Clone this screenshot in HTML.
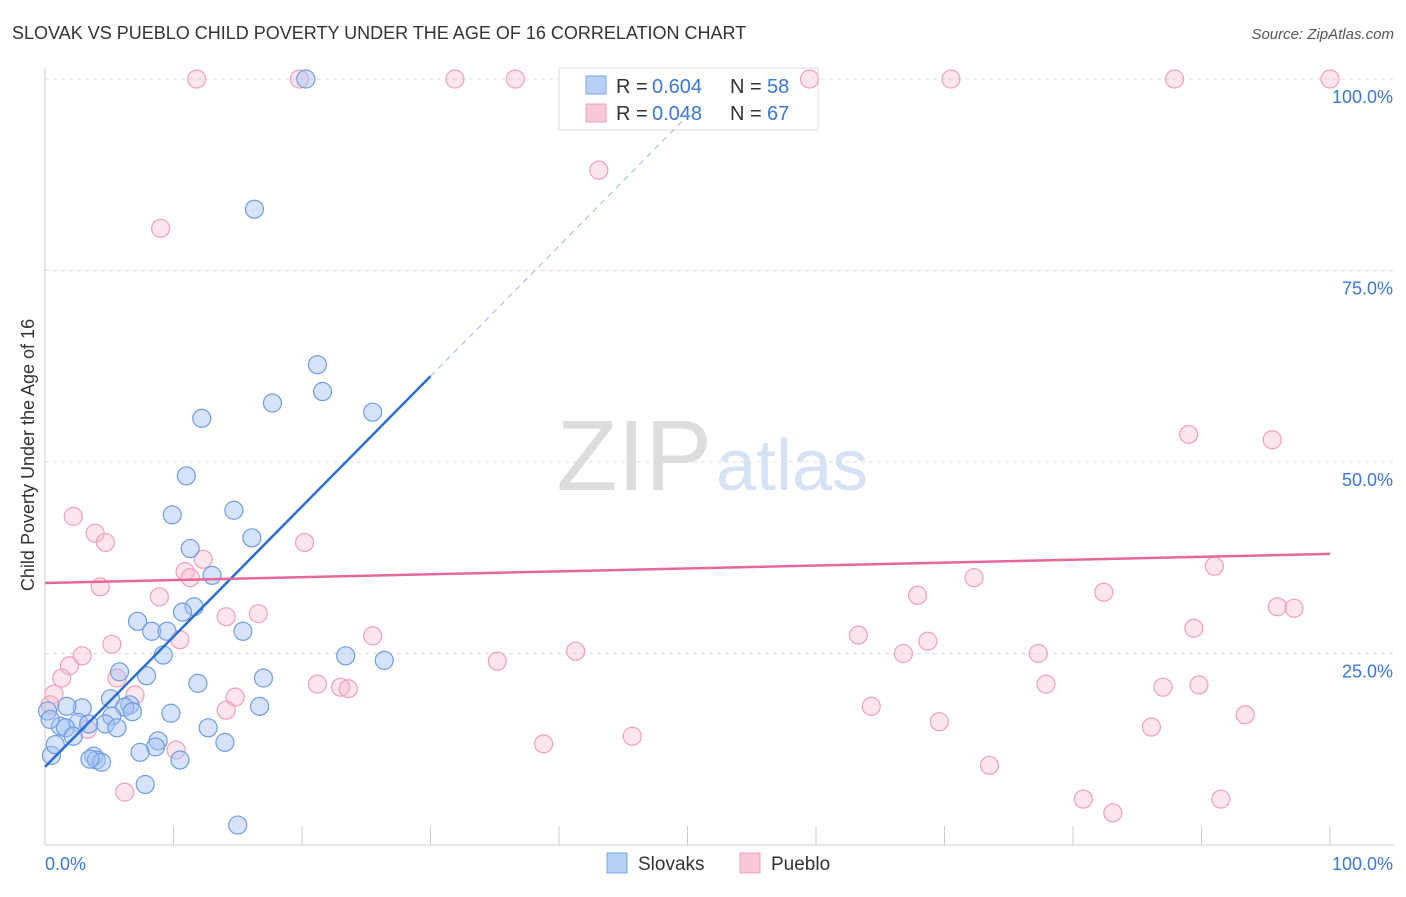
<!DOCTYPE html>
<html><head><meta charset="utf-8"><style>
body{margin:0;background:#fff;font-family:"Liberation Sans",sans-serif;}
svg text{font-family:"Liberation Sans",sans-serif;}
</style></head><body>
<svg id="chart" width="1406" height="892">
<text x="12" y="39" font-size="18" fill="#333">SLOVAK VS PUEBLO CHILD POVERTY UNDER THE AGE OF 16 CORRELATION CHART</text>
<text x="1394" y="39" font-size="15" fill="#555" font-style="italic" text-anchor="end">Source: ZipAtlas.com</text>
<text x="712" y="490" font-size="100" fill="#ddd" text-anchor="end" font-family="Liberation Serif">ZIP</text>
<text x="716" y="490" font-size="72" fill="#d5e3f5">atlas</text>
<text transform="translate(34,455) rotate(-90)" font-size="18" fill="#333" text-anchor="middle">Child Poverty Under the Age of 16</text>
<g id="grid"></g>
<g>
<rect x="559" y="68" width="259" height="62" fill="#fff" stroke="#ddd"/>
<rect x="586" y="76" width="20" height="18" fill="#b8d0f4" stroke="#7aa6e0"/>
<rect x="586" y="104" width="20" height="18" fill="#f8c8d6" stroke="#f0a0b8"/>
<text x="616" y="93" font-size="20" fill="#333">R =</text><text x="652" y="93" font-size="20" fill="#3a78d8">0.604</text>
<text x="730" y="93" font-size="20" fill="#333">N =</text><text x="767" y="93" font-size="20" fill="#3a78d8">58</text>
<text x="616" y="120" font-size="20" fill="#333">R =</text><text x="652" y="120" font-size="20" fill="#3a78d8">0.048</text>
<text x="730" y="120" font-size="20" fill="#333">N =</text><text x="767" y="120" font-size="20" fill="#3a78d8">67</text>
</g>
<g id="pts"></g><g id="lines"></g>
<g>
<rect x="607" y="853" width="20" height="20" fill="#b8d0f4" stroke="#7aa6e0"/>
<text x="638" y="870" font-size="19" fill="#333">Slovaks</text>
<rect x="740" y="853" width="20" height="20" fill="#f8c8d6" stroke="#f0a0b8"/>
<text x="771" y="870" font-size="19" fill="#333">Pueblo</text>
</g>
</svg>
<script>
const yTicks=[25,50,75,100];
const yTickLabels=["25.0%","50.0%","75.0%","100.0%"];
const xTicks=[0,10,20,30,40,50,60,70,80,90,100];
const slovakX=[20.3,16.3,21.2,21.6,17.7,25.5,12.2,11.0,9.9,14.7,16.1,11.3,13.0,11.6,10.7,7.2,8.3,9.5,15.4,9.2,23.4,26.4,5.8,7.9,17.0,11.9,5.1,6.6,16.7,2.9,1.7,6.2,5.2,6.8,9.8,2.6,1.2,4.7,5.6,1.6,3.4,12.7,2.2,8.8,8.6,14.0,7.4,3.8,0.5,4.0,4.4,10.5,3.5,7.8,15.0,0.2,0.8,0.4];
const slovakY=[100,83.0,62.7,59.2,57.7,56.5,55.7,48.2,43.1,43.7,40.1,38.7,35.2,31.1,30.4,29.2,27.9,27.9,27.9,24.8,24.7,24.1,22.6,22.1,21.8,21.1,19.1,18.3,18.1,17.9,18.1,18.0,16.8,17.4,17.2,16.0,15.5,15.8,15.3,15.3,15.8,15.3,14.2,13.6,12.8,13.4,12.1,11.6,11.7,11.1,10.8,11.1,11.2,7.9,2.6,17.5,13.1,16.4];
const puebloX=[11.8,19.8,31.9,36.6,59.5,70.5,87.9,100,43.1,9.0,89.0,95.5,2.2,3.9,4.7,20.2,12.3,91.0,10.9,11.3,72.3,4.3,8.9,67.9,82.4,16.6,14.1,95.9,97.2,89.4,5.2,10.5,25.5,63.3,68.7,41.3,2.9,66.8,77.3,35.2,1.9,1.3,21.2,77.9,23.0,23.6,87.0,89.8,0.7,7.0,5.6,14.8,64.3,14.1,93.4,69.6,86.1,3.3,10.2,38.8,45.7,73.5,6.2,80.8,91.5,83.1,0.4];
const puebloY=[100,100,100,100,100,100,100,100,88.1,80.5,53.6,52.9,42.9,40.7,39.5,39.5,37.3,36.4,35.7,34.9,34.9,33.7,32.4,32.6,33.0,30.2,29.8,31.1,30.9,28.3,26.2,26.8,27.3,27.4,26.6,25.3,24.7,25.0,25.0,24.0,23.4,21.8,21.0,21.0,20.6,20.4,20.6,20.9,19.7,19.6,21.8,19.3,18.1,17.6,17.0,16.1,15.4,15.1,12.4,13.2,14.2,10.4,6.9,6.0,6.0,4.2,18.3];
const slovakLine=[[0,10.2],[30,61.2]];
const slovakDash=[[30,61.2],[50,95.2]];
const puebloLine=[[0,34.2],[100,38.0]];
const NS="http://www.w3.org/2000/svg";
const X0=45,X1=1330,Y0=845,Y100=79;
function sx(v){return X0+(X1-X0)*v/100;}
function sy(v){return Y0-(Y0-Y100)*v/100;}
function mk(tag,attrs,parent){const e=document.createElementNS(NS,tag);for(const k in attrs)e.setAttribute(k,attrs[k]);parent.appendChild(e);return e;}
const grid=document.getElementById('grid');
const ax=mk('line',{x1:X0,y1:68,x2:X0,y2:845,stroke:'#ccc'},grid);


const bx=mk('line',{x1:X0,y1:845,x2:1394,y2:845,stroke:'#ccc'},grid);


yTicks.forEach((t,i)=>{
 const g=mk('line',{x1:X0,y1:sy(t),x2:1394,y2:sy(t),stroke:'#ddd','stroke-dasharray':'4,4'},grid);
 
 
 const tx=mk('text',{x:1393,y:sy(t)+24,'font-size':18,fill:'#3a78d8','text-anchor':'end'},grid);
 tx.textContent=yTickLabels[i];
 
 
});
xTicks.forEach(t=>{
 const l=mk('line',{x1:sx(t),y1:826,x2:sx(t),y2:845,stroke:'#ccc'},grid);
 
 
});
const xl0=mk('text',{x:45,y:870,'font-size':18,fill:'#3a78d8'},grid);xl0.textContent='0.0%';


const xl1=mk('text',{x:1393,y:870,'font-size':18,fill:'#3a78d8','text-anchor':'end'},grid);xl1.textContent='100.0%';


const pts=document.getElementById('pts');
puebloX.forEach((x,i)=>{
 const c=mk('circle',{cx:sx(x),cy:sy(puebloY[i]),r:9,fill:'rgba(246,180,200,0.35)',stroke:'#f0a0b8','stroke-width':1.2},pts);
 
 
});
slovakX.forEach((x,i)=>{
 const c=mk('circle',{cx:sx(x),cy:sy(slovakY[i]),r:9,fill:'rgba(164,194,244,0.45)',stroke:'#6f9de0','stroke-width':1.2},pts);
 
 
});
const lines=document.getElementById('lines');
const bl=mk('line',{x1:sx(slovakLine[0][0]),y1:sy(slovakLine[0][1]),x2:sx(slovakLine[1][0]),y2:sy(slovakLine[1][1]),stroke:'#2a6fd6','stroke-width':2.5},lines);


const bd=mk('line',{x1:sx(slovakDash[0][0]),y1:sy(slovakDash[0][1]),x2:sx(slovakDash[1][0]),y2:sy(slovakDash[1][1]),stroke:'#9ab8e0','stroke-width':1,'stroke-dasharray':'6,5'},lines);


const pl=mk('line',{x1:sx(puebloLine[0][0]),y1:sy(puebloLine[0][1]),x2:sx(puebloLine[1][0]),y2:sy(puebloLine[1][1]),stroke:'#e8679a','stroke-width':2.5},lines);


</script>
</body></html>
